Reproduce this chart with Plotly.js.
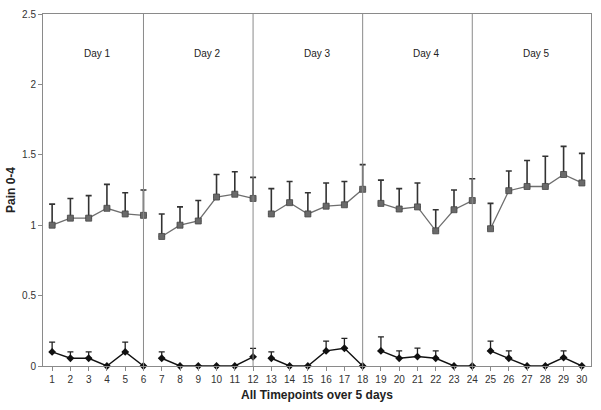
<!DOCTYPE html>
<html>
<head>
<meta charset="utf-8">
<script src="https://cdn.plot.ly/plotly-3.0.1.min.js"></script>
<style>html,body{margin:0;padding:0;background:#fff;}#chart{width:601px;height:410px;}</style>
</head>
<body>
<div id="chart"></div>
<script>
// Timepoints 1..30 (6 per day, 5 days)
const timepoints = [1,2,3,4,5,6,7,8,9,10,11,12,13,14,15,16,17,18,19,20,21,22,23,24,25,26,27,28,29,30];
const dayLabels = ["Day 1","Day 2","Day 3","Day 4","Day 5"];
const dayLabelX = [3.5, 9.5, 15.5, 21.5, 27.5];
const dayBoundaries = [6, 12, 18, 24];

// Upper series (grey squares)
const upperMean = [1.00,1.05,1.05,1.12,1.08,1.07, 0.92,1.00,1.03,1.20,1.22,1.19, 1.08,1.16,1.08,1.135,1.145,1.255, 1.155,1.115,1.13,0.96,1.11,1.175, 0.975,1.245,1.275,1.275,1.36,1.30];
const upperErr  = [0.15,0.14,0.16,0.17,0.15,0.18, 0.16,0.13,0.145,0.16,0.16,0.15, 0.18,0.15,0.15,0.165,0.165,0.175, 0.165,0.145,0.17,0.15,0.14,0.155, 0.18,0.14,0.185,0.215,0.20,0.21];

// Lower series (black diamonds)
const lowerMean = [0.10,0.055,0.055,0,0.10,0, 0.055,0,0,0,0,0.065, 0.055,0,0,0.107,0.126,0, 0.107,0.055,0.067,0.055,0,0, 0.107,0.055,0,0,0.06,0];
const lowerErr  = [0.07,0.045,0.045,0,0.07,0, 0.045,0,0,0,0,0.06, 0.045,0,0,0.07,0.07,0, 0.10,0.052,0.06,0.052,0,0, 0.07,0.052,0,0,0.047,0];

const traces = [];
for (let d = 0; d < 5; d++) {
  const s = d*6, e = s+6;
  const xs = timepoints.slice(s,e);
  traces.push({
    x: xs, y: upperMean.slice(s,e), type:'scatter', mode:'lines+markers',
    line:{color:'#6e6e6e', width:1.3},
    marker:{symbol:'square', size:6, color:'#6a6a6a', line:{color:'#444', width:0.8}},
    error_y:{type:'data', symmetric:false, array:upperErr.slice(s,e), arrayminus:xs.map(()=>0), color:'#333', thickness:1.6, width:3},
    showlegend:false, hoverinfo:'skip', cliponaxis:false
  });
  traces.push({
    x: xs, y: lowerMean.slice(s,e), type:'scatter', mode:'lines+markers',
    line:{color:'#111', width:1.4},
    marker:{symbol:'diamond', size:6, color:'#111'},
    error_y:{type:'data', symmetric:false, array:lowerErr.slice(s,e), arrayminus:xs.map(()=>0), color:'#222', thickness:1.3, width:3},
    showlegend:false, hoverinfo:'skip', cliponaxis:false
  });
}

const shapes = dayBoundaries.map(b => ({
  type:'line', xref:'x', yref:'paper', x0:b, x1:b, y0:0, y1:1,
  line:{color:'#8a8a8a', width:1}
}));

const annotations = dayLabels.map((t,i) => ({
  text:t, x:dayLabelX[i], y:2.22, xref:'x', yref:'y', showarrow:false,
  font:{family:'Liberation Sans, Arial, sans-serif', size:10, color:'#222'}
}));

const layout = {
  width:601, height:410,
  margin:{l:43, r:10, t:14, b:44},
  paper_bgcolor:'#fff', plot_bgcolor:'#fff',
  font:{family:'Liberation Sans, Arial, sans-serif', size:10, color:'#333'},
  xaxis:{
    range:[0.5,30.5], tickmode:'array', tickvals:timepoints, ticktext:timepoints.map(String),
    showgrid:false, zeroline:false, showline:true, linecolor:'#8a8a8a', linewidth:1, mirror:true,
    ticks:'outside', ticklen:4, tickcolor:'#8a8a8a',
    tickfont:{size:10, color:'#333'},
    title:{text:'All Timepoints over 5 days', font:{size:12, color:'#222', weight:'bold'}, standoff:6}
  },
  yaxis:{
    range:[0,2.5], tickvals:[0,0.5,1,1.5,2,2.5], ticktext:['0','0.5','1','1.5','2','2.5'],
    showgrid:false, zeroline:false, showline:true, linecolor:'#8a8a8a', linewidth:1, mirror:true,
    ticks:'outside', ticklen:4, tickcolor:'#8a8a8a',
    tickfont:{size:10, color:'#333'},
    title:{text:'Pain 0-4', font:{size:12, color:'#222', weight:'bold'}, standoff:3}
  },
  shapes:shapes,
  annotations:annotations
};

Plotly.newPlot('chart', traces, layout, {displayModeBar:false, staticPlot:true});
</script>
</body>
</html>
